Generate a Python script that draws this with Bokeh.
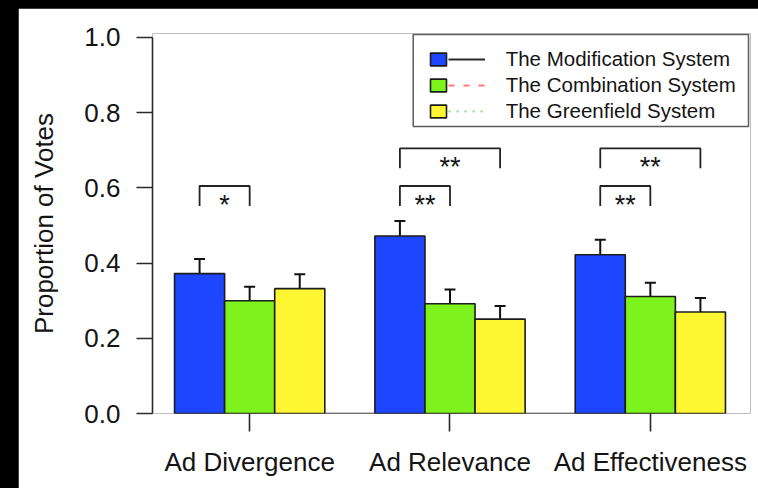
from bokeh.plotting import figure
from bokeh.models import (Range1d, FixedTicker, PrintfTickFormatter, Whisker, TeeHead,
                          ColumnDataSource, Legend, LegendItem, Column, BoxAnnotation)
from bokeh.core.properties import value
from bokeh.embed import file_html
from bokeh.resources import INLINE

# ---------------- data ----------------
categories = ["Ad Divergence", "Ad Relevance", "Ad Effectiveness"]
systems = ["The Modification System", "The Combination System", "The Greenfield System"]
modification = [0.372, 0.472, 0.422]
combination = [0.300, 0.292, 0.311]
greenfield = [0.332, 0.251, 0.270]
modification_err = [0.039, 0.040, 0.040]
combination_err = [0.037, 0.038, 0.037]
greenfield_err = [0.038, 0.035, 0.037]
y_ticks = [0.0, 0.2, 0.4, 0.6, 0.8, 1.0]

# significance brackets: category, from-system index, to-system index, bracket height, label
sig_category = ["Ad Divergence", "Ad Relevance", "Ad Relevance", "Ad Effectiveness", "Ad Effectiveness"]
sig_from = [0, 0, 0, 0, 0]
sig_to = [1, 1, 2, 1, 2]
sig_height = [0.605, 0.605, 0.705, 0.605, 0.705]
sig_label = ["*", "**", "**", "**", "**"]

# ---------------- styles ----------------
FONT = "Liberation Sans"
TEXT = "#141414"
bar_colors = ["#1f46ff", "#7ef21c", "#fff633"]
legend_line_colors = ["#2a2a2a", "#ff7878", "#88dd88"]
legend_line_dash = ["solid", "6 9", "2 6"]
series = [modification, combination, greenfield]
errors = [modification_err, combination_err, greenfield_err]

n_sys = len(systems)
group_step = n_sys + 1          # bars of a group plus one bar-wide gap (R barplot beside=TRUE)
first_left = 1.0


def bar_center(g, s):
    return first_left + g * group_step + s + 0.5


x_lo = first_left
x_hi = first_left + (len(categories) - 1) * group_step + n_sys
pad = 0.04 * (x_hi - x_lo)

p = figure(width=740, height=480,
           x_range=Range1d(x_lo - pad, x_hi + pad + 0.06), y_range=Range1d(0, 1.0106),
           output_backend="svg", toolbar_location=None,
           min_border_left=134, min_border_right=8, min_border_top=25, min_border_bottom=75)
p.margin = (8, 0, 0, 18)
p.outline_line_color = None
p.background_fill_color = "white"
p.border_fill_color = "white"
p.xgrid.visible = False
p.ygrid.visible = False

# baseline under the bars
p.segment(x0=[x_lo], y0=[0], x1=[x_hi], y1=[0], line_color="#222222", line_width=1.6)

bar_renderers = []
for s in range(n_sys):
    xs = [bar_center(g, s) for g in range(len(categories))]
    src = ColumnDataSource(dict(
        x=xs, top=series[s],
        upper=[v + e for v, e in zip(series[s], errors[s])],
        lower=[v - e for v, e in zip(series[s], errors[s])],
    ))
    r = p.vbar(x="x", top="top", bottom=0, width=1.0, source=src,
               fill_color=bar_colors[s], line_color="#1c1c1c", line_width=1.6)
    bar_renderers.append(r)
    w = Whisker(source=src, base="x", upper="upper", lower="lower",
                line_color="#111111", line_width=2,
                upper_head=TeeHead(size=11, line_color="#111111", line_width=2),
                lower_head=TeeHead(size=11, line_color="#111111", line_width=2))
    p.add_layout(w)

# significance brackets
drop = 0.053
bx, by, tx, ty = [], [], [], []
for c, a, b, h in zip(sig_category, sig_from, sig_to, sig_height):
    g = categories.index(c)
    xa, xb = bar_center(g, a), bar_center(g, b)
    bx.append([xa, xa, xb, xb])
    by.append([h - drop, h, h, h - drop])
    tx.append((xa + xb) / 2)
    ty.append(h)
p.multi_line(xs=bx, ys=by, line_color="#222222", line_width=1.8)
p.text(x=tx, y=ty, text=sig_label, text_font=value(FONT), text_font_size="27px",
       text_align="center", text_baseline="alphabetic", y_offset=19, text_color=TEXT)

# axes
p.yaxis.bounds = (0, 1)
p.yaxis.ticker = FixedTicker(ticks=y_ticks)
p.yaxis.formatter = PrintfTickFormatter(format="%.1f")
p.yaxis.axis_label = "Proportion of Votes"
p.yaxis.axis_label_text_font = FONT
p.yaxis.axis_label_text_font_size = "26px"
p.yaxis.axis_label_text_font_style = "normal"
p.yaxis.axis_label_text_color = TEXT
p.yaxis.axis_label_standoff = 22
p.yaxis.major_label_text_font = FONT
p.yaxis.major_label_text_font_size = "26px"
p.yaxis.major_label_text_color = TEXT
p.yaxis.major_label_standoff = 16
p.yaxis.major_tick_out = 16
p.yaxis.major_tick_in = 0
p.yaxis.minor_tick_line_color = None
p.yaxis.axis_line_color = "#2a2a2a"
p.yaxis.axis_line_width = 1.6
p.yaxis.major_tick_line_color = "#2a2a2a"
p.yaxis.major_tick_line_width = 1.6

group_centers = [bar_center(g, (n_sys - 1) / 2) for g in range(len(categories))]
p.xaxis.ticker = FixedTicker(ticks=group_centers)
p.xaxis.major_label_overrides = {c: lab for c, lab in zip(group_centers, categories)}
p.xaxis.major_label_text_font = FONT
p.xaxis.major_label_text_font_size = "26px"
p.xaxis.major_label_text_color = TEXT
p.xaxis.major_label_standoff = 15
p.xaxis.major_tick_out = 18
p.xaxis.major_tick_in = 0
p.xaxis.minor_tick_line_color = None
p.xaxis.axis_line_color = None
p.xaxis.major_tick_line_color = "#2a2a2a"
p.xaxis.major_tick_line_width = 1.6

# legend frame
box = BoxAnnotation(left=394.7, right=730, top=26, bottom=118,
                    left_units="canvas", right_units="canvas",
                    top_units="canvas", bottom_units="canvas",
                    fill_color="white", fill_alpha=1.0,
                    line_color="#5a5a5a", line_width=1.5, line_alpha=1.0)
p.add_layout(box)

# legend: filled squares + labels, and the line samples beside the squares
nan = float("nan")
line_renderers = [p.line(x=[nan], y=[nan], line_color=legend_line_colors[s],
                         line_dash=legend_line_dash[s], line_width=2)
                  for s in range(n_sys)]

common = dict(padding=0, spacing=2, glyph_height=16, label_height=24,
              border_line_color=None, background_fill_alpha=0,
              label_text_font=FONT, label_text_font_size="20.5px", label_text_color=TEXT)
leg_sq = Legend(items=[LegendItem(label=value(systems[s]), renderers=[bar_renderers[s]])
                       for s in range(n_sys)],
                location=(275.7, 289.7), glyph_width=20, label_standoff=58, **common)
leg_ln = Legend(items=[LegendItem(label=value(" "), renderers=[line_renderers[s]])
                       for s in range(n_sys)],
                location=(295.7, 289.7), glyph_width=37, label_standoff=0, **common)
p.add_layout(leg_sq)
p.add_layout(leg_ln)

layout = Column(children=[p], styles={"background-color": "black"})
open("out.html", "w").write(file_html(layout, INLINE))
